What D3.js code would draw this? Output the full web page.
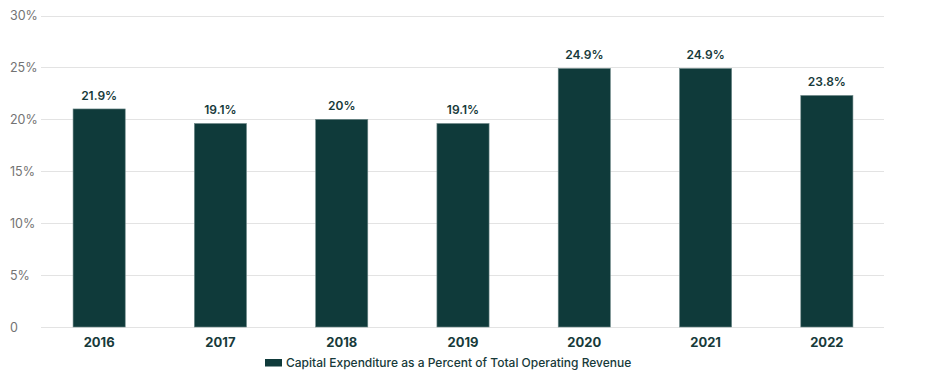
<!DOCTYPE html>
<html>
<head>
<meta charset="utf-8">
<script src="https://cdn.jsdelivr.net/npm/d3@7"></script>
<style>
  html, body { margin: 0; padding: 0; background: #fff; }
  svg { display: block; font-family: Inter, "Liberation Sans", sans-serif; }
</style>
</head>
<body>
<svg id="chart" width="945" height="380"></svg>
<script>
const categories = ["2016", "2017", "2018", "2019", "2020", "2021", "2022"];
const barValues = [21.0, 19.6, 20.0, 19.6, 24.9, 24.9, 22.3];
const labelTexts = ["21.9%", "19.1%", "20%", "19.1%", "24.9%", "24.9%", "23.8%"];
const yTicks = [0, 5, 10, 15, 20, 25, 30];
const yTickLabels = ["0", "5%", "10%", "15%", "20%", "25%", "30%"];
const seriesName = "Capital Expenditure as a Percent of Total Operating Revenue";

const barColor = "#0f3a3a";
const textDark = "#173a3a";

const svg = d3.select("#chart");

const x = d3.scaleBand().domain(categories).range([38.5, 887.5]).paddingInner(0.57).paddingOuter(0.285);
const y = d3.scaleLinear().domain([0, 30]).range([327, 15.5]);

// gridlines
svg.append("g").selectAll("line").data(yTicks).join("line")
  .attr("x1", 41).attr("x2", 884)
  .attr("y1", d => Math.round(y(d)) + 0.5).attr("y2", d => Math.round(y(d)) + 0.5)
  .attr("stroke", "#e3e3e3").attr("stroke-width", 1);

// y tick labels
svg.append("g").selectAll("text").data(yTicks).join("text")
  .attr("x", 10).attr("y", d => y(d) + 4.5)
  .attr("fill", "#737373").attr("font-size", 12.5)
  .text((d, i) => yTickLabels[i]);

// bars
svg.append("g").selectAll("rect").data(categories).join("rect")
  .attr("x", d => x(d)).attr("width", x.bandwidth())
  .attr("y", (d, i) => y(barValues[i]))
  .attr("height", (d, i) => y(0) - y(barValues[i]))
  .attr("fill", barColor)
  .attr("stroke", "#6f8a8a").attr("stroke-width", 0.6);

// value labels
svg.append("g").selectAll("text").data(categories).join("text")
  .attr("x", d => x(d) + x.bandwidth() / 2)
  .attr("y", (d, i) => y(barValues[i]) - 9)
  .attr("text-anchor", "middle")
  .attr("fill", textDark).attr("font-size", 12).attr("font-weight", 600)
  .text((d, i) => labelTexts[i]);

// x axis labels
svg.append("g").selectAll("text").data(categories).join("text")
  .attr("x", d => x(d) + x.bandwidth() / 2)
  .attr("y", 347)
  .attr("text-anchor", "middle")
  .attr("fill", textDark).attr("font-size", 13).attr("font-weight", 700)
  .text(d => d);

// legend
const lg = svg.append("g");
lg.append("rect").attr("x", 265).attr("y", 359).attr("width", 17).attr("height", 7.5).attr("fill", barColor);
lg.append("text").attr("x", 286).attr("y", 366.5)
  .attr("fill", textDark).attr("font-size", 12).attr("font-weight", 500)
  .text(seriesName);
</script>
</body>
</html>
